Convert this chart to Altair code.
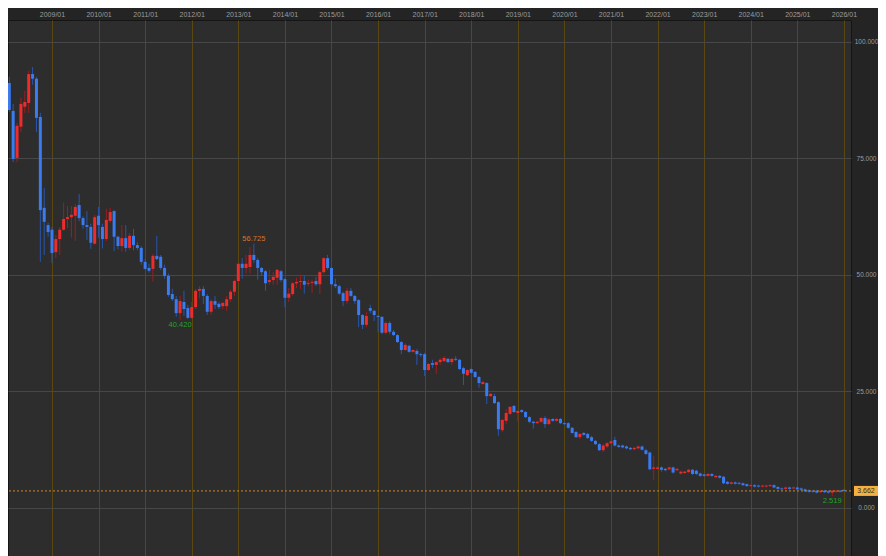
import altair as alt
import pandas as pd

# Monthly candles, 2008/01 .. 2026/01
months = [f"{2008 + k // 12}/{k % 12 + 1:02d}" for k in range(217)]

open_ = [
    92.5, 91.2, 85.2, 75.1, 81.8, 86.1, 86.9, 93.1, 92.1, 83.9, 64.4, 60.7,
    59.7, 54.9, 57.7, 59.7, 62.0, 62.4, 62.7, 65.0, 62.2, 60.7, 60.3, 56.7,
    62.7, 60.3, 57.7, 61.6, 63.7, 58.2, 56.2, 57.9, 55.8, 58.4, 56.4, 55.8,
    52.8, 51.5, 51.3, 54.1, 53.9, 51.5, 49.8, 45.9, 44.8, 41.8, 44.2, 42.9,
    40.8, 43.1, 46.6, 47.0, 45.5, 42.1, 44.4, 43.8, 43.3, 43.3, 44.8, 46.4,
    48.7, 52.4, 51.5, 51.7, 54.3, 53.2, 51.5, 50.8, 48.5, 48.9, 49.4, 50.8,
    49.1, 45.1, 45.9, 48.2, 48.5, 48.7, 48.1, 48.3, 48.7, 48.0, 50.6, 53.6,
    51.5, 48.0, 47.6, 46.1, 44.4, 46.6, 45.5, 44.6, 41.4, 39.3, 42.9, 42.3,
    41.2, 41.0, 37.6, 39.7, 37.8, 37.1, 35.6, 33.9, 34.8, 33.5, 33.7, 33.0,
    33.0, 29.6, 31.1, 30.7, 31.3, 31.5, 32.0, 31.3, 32.0, 31.8, 30.0, 28.5,
    29.8, 29.2, 28.1, 26.6, 26.8, 24.0, 24.0, 22.7, 16.7, 18.7, 20.2, 21.9,
    20.4, 21.0, 20.6, 19.5, 18.5, 18.2, 18.5, 19.3, 18.0, 19.1, 18.7, 19.1,
    18.2, 18.2, 17.2, 16.3, 15.2, 16.1, 15.9, 15.2, 14.4, 13.7, 12.4, 13.2,
    13.9, 14.6, 13.4, 13.4, 13.2, 12.9, 12.6, 12.8, 13.2, 12.4, 11.9, 8.4,
    8.4, 8.7, 8.4, 8.3, 8.7, 8.1, 7.4, 7.5, 7.7, 8.2, 8.0, 7.4,
    7.2, 6.9, 7.3, 6.6, 6.9, 6.7, 5.6, 5.2, 5.5, 5.4, 5.3, 5.1,
    4.7, 4.9, 4.8, 4.6, 4.6, 4.7, 4.9, 4.5, 4.2, 4.1, 4.4, 4.2,
    4.4, 4.2, 4.0, 3.8, 3.7, 3.7, 3.4, 3.7, 3.6, 3.3, 3.5, 3.7,
    3.9,
]
high = [
    92.9, 92.5, 86.7, 82.6, 88.0, 89.5, 93.8, 94.6, 92.5, 84.8, 68.7, 61.2,
    60.3, 58.6, 60.3, 65.5, 64.8, 64.8, 65.2, 67.4, 62.6, 63.7, 61.0, 62.9,
    64.6, 61.0, 64.2, 64.4, 63.9, 58.4, 60.7, 60.7, 59.0, 59.9, 57.0, 56.2,
    53.4, 52.4, 54.5, 58.4, 54.3, 52.2, 50.3, 47.0, 45.5, 45.5, 46.6, 43.6,
    44.2, 47.0, 47.6, 47.6, 45.9, 44.8, 45.5, 44.2, 44.2, 45.5, 46.8, 49.0,
    52.6, 53.6, 54.3, 56.0, 56.725, 53.6, 51.7, 51.1, 51.1, 50.6, 51.3, 51.1,
    49.4, 47.2, 48.5, 49.4, 50.1, 49.8, 49.0, 49.0, 49.6, 50.8, 53.8, 54.3,
    51.7, 49.2, 47.9, 46.4, 47.2, 47.2, 45.7, 44.8, 41.6, 42.1, 43.6, 42.5,
    41.4, 41.2, 40.1, 40.1, 38.2, 37.3, 35.8, 35.4, 35.0, 34.1, 34.1, 33.3,
    33.3, 31.1, 31.8, 31.5, 32.2, 32.6, 32.2, 32.2, 32.6, 32.0, 30.3, 29.8,
    30.0, 29.4, 28.3, 27.3, 27.0, 24.7, 24.5, 22.9, 19.1, 21.2, 21.9, 22.1,
    21.0, 21.2, 20.8, 19.7, 18.7, 18.7, 19.5, 19.7, 19.3, 19.3, 19.3, 19.3,
    18.5, 18.4, 17.4, 16.5, 16.1, 16.3, 16.1, 15.5, 14.6, 13.9, 13.7, 14.2,
    14.5, 15.3, 13.6, 13.6, 13.4, 13.1, 13.1, 13.4, 13.4, 12.7, 12.1, 11.2,
    8.9, 8.9, 8.6, 8.9, 8.9, 8.6, 8.0, 8.0, 8.4, 8.4, 8.2, 7.6,
    7.4, 7.5, 7.5, 7.1, 7.1, 6.9, 5.8, 5.7, 5.7, 5.6, 5.5, 5.3,
    5.1, 5.1, 5.0, 5.0, 5.0, 5.1, 5.1, 4.7, 4.4, 4.6, 4.6, 4.6,
    4.6, 4.4, 4.2, 4.0, 3.9, 3.9, 3.8, 3.9, 3.8, 3.8, 3.9, 3.9,
    4.0,
]
low = [
    84.8, 85.0, 74.2, 74.2, 80.7, 84.8, 84.8, 90.8, 80.7, 52.8, 54.3, 58.2,
    52.6, 53.6, 54.3, 59.5, 60.1, 58.0, 57.3, 61.5, 59.9, 57.5, 55.6, 56.5,
    58.0, 55.7, 57.3, 61.2, 55.1, 55.5, 55.0, 55.0, 55.3, 55.3, 55.3, 52.2,
    51.1, 50.5, 48.6, 53.2, 51.1, 49.2, 45.3, 44.4, 41.0, 40.42, 41.2, 40.6,
    40.6, 42.7, 45.0, 43.8, 41.4, 41.4, 42.7, 42.7, 42.7, 42.3, 44.2, 45.5,
    48.2, 49.2, 50.3, 50.3, 52.6, 49.0, 49.8, 46.6, 47.9, 47.9, 47.9, 48.5,
    43.1, 44.2, 45.5, 47.2, 47.0, 46.0, 47.6, 46.2, 47.6, 45.9, 50.3, 51.1,
    47.6, 47.2, 45.7, 43.3, 43.8, 45.3, 43.8, 38.8, 38.4, 38.8, 41.8, 40.1,
    37.8, 37.3, 37.3, 37.3, 36.9, 35.4, 33.0, 33.7, 33.3, 33.3, 30.7, 32.4,
    28.3, 29.4, 30.0, 28.8, 30.7, 31.3, 31.1, 30.7, 31.5, 29.6, 26.4, 28.3,
    28.8, 27.9, 25.8, 26.4, 22.3, 23.8, 22.3, 15.5, 16.3, 18.0, 19.9, 20.4,
    18.5, 20.4, 19.3, 18.2, 17.0, 18.0, 18.2, 17.2, 17.8, 18.5, 18.5, 18.0,
    17.8, 17.0, 15.9, 15.0, 14.8, 15.5, 14.8, 14.2, 13.5, 12.2, 12.0, 12.9,
    13.7, 13.2, 12.9, 12.8, 12.6, 12.4, 12.4, 12.6, 12.3, 11.4, 8.1, 6.0,
    8.2, 7.8, 7.9, 8.1, 7.4, 7.9, 7.2, 7.3, 7.5, 7.1, 7.1, 6.7,
    6.7, 6.7, 6.7, 6.4, 6.3, 5.1, 5.0, 5.0, 5.0, 5.0, 4.7, 4.5,
    4.5, 4.4, 4.4, 4.4, 4.4, 4.5, 4.2, 3.9, 3.8, 3.9, 3.9, 4.0,
    3.8, 3.7, 3.4, 3.3, 3.3, 3.1, 3.2, 3.2, 3.1, 2.519, 3.3, 3.3,
    3.5,
]
close = [
    91.2, 85.4, 74.9, 82.0, 86.7, 87.1, 93.1, 92.1, 83.7, 63.9, 61.4, 59.2,
    54.7, 57.7, 59.7, 62.0, 62.4, 62.9, 64.6, 62.2, 60.7, 60.3, 56.9, 62.4,
    60.7, 57.7, 61.8, 63.5, 58.2, 56.2, 57.9, 55.8, 58.4, 56.4, 55.8, 52.8,
    51.3, 50.9, 54.1, 53.4, 51.5, 49.8, 45.7, 44.8, 41.8, 44.4, 42.7, 40.8,
    43.1, 46.6, 47.0, 45.5, 42.1, 44.4, 43.6, 43.1, 44.0, 44.8, 46.4, 48.7,
    52.4, 51.5, 52.4, 54.3, 53.2, 51.5, 50.6, 48.2, 48.9, 49.6, 51.1, 48.9,
    45.1, 46.0, 48.2, 48.5, 48.7, 47.9, 48.3, 48.5, 48.0, 50.6, 53.6, 51.5,
    48.0, 47.6, 46.0, 44.4, 46.6, 45.5, 44.4, 41.4, 39.3, 41.2, 42.3, 41.4,
    41.0, 37.6, 39.7, 37.8, 37.1, 35.6, 33.9, 35.0, 33.5, 33.9, 33.0, 32.8,
    29.6, 30.9, 30.7, 31.3, 31.8, 32.2, 31.3, 32.0, 31.8, 29.8, 28.8, 29.6,
    29.0, 28.1, 26.8, 27.0, 24.0, 24.5, 22.5, 16.9, 18.9, 20.4, 21.7, 20.6,
    20.8, 20.6, 19.5, 18.5, 18.2, 18.5, 19.3, 18.0, 19.0, 18.7, 19.1, 18.2,
    18.0, 17.2, 16.1, 15.2, 15.9, 15.7, 15.0, 14.4, 13.7, 12.4, 13.4, 13.9,
    14.3, 13.4, 13.1, 13.0, 12.8, 12.6, 12.9, 13.2, 12.5, 11.6, 8.3, 8.7,
    8.7, 8.2, 8.1, 8.7, 7.6, 8.4, 7.8, 7.8, 8.2, 7.3, 7.3, 6.9,
    6.9, 7.3, 6.9, 6.9, 6.5, 5.3, 5.2, 5.5, 5.2, 5.2, 4.9, 4.7,
    4.9, 4.6, 4.6, 4.8, 4.8, 4.9, 4.4, 4.1, 4.0, 4.4, 4.1, 4.4,
    4.0, 3.9, 3.6, 3.5, 3.5, 3.3, 3.7, 3.4, 3.3, 3.7, 3.7, 3.5,
    3.662,
]

last_price = 3.662
year_ticks = [12 * k for k in range(1, 19)]      # 2009/01 .. 2026/01
y_ticks = [0, 25, 50, 75, 100]

ann_idx = [64, 45, 213]
ann_val = [56.725, 40.42, 2.519]
ann_text = ["56.725", "40.420", "2.519"]
ann_pos = ["high", "low", "low"]

RED = "#ee2c2c"
RED_WICK = "#a11c1c"
BLUE = "#3a7bf0"
BLUE_WICK = "#2856ad"
ORANGE = "#d0762c"
GREEN = "#22a322"

df = pd.DataFrame({
    "i": list(range(len(open_))),
    "month": months,
    "open": open_,
    "high": high,
    "low": low,
    "close": close,
})

ann = pd.DataFrame({"i": ann_idx, "v": ann_val, "t": ann_text, "pos": ann_pos})
lp = pd.DataFrame({"v": [last_price], "t": [f"{last_price:.3f}"]})

# whole chart is 870 px wide so the page does not shrink it
W, H = 843, 536

xscale = alt.Scale(domain=[0.67, 217.83], nice=False, zero=False, padding=0)
yscale = alt.Scale(domain=[-10.3, 104.7], nice=False, zero=False, padding=0)

x_enc = alt.X(
    "i:Q", scale=xscale,
    axis=alt.Axis(
        orient="top", values=year_ticks, title="",
        labelExpr="(2008 + datum.value / 12) + '/01'",
        grid=True, gridColor="#5a4810", gridWidth=1,
        labelBaseline="middle", labelPadding=6, labelAlign="center",
        labelFlush=False, labelOverlap=False,
    ),
)
y_axis = alt.Axis(
    orient="right", values=y_ticks, format=".3f", title="",
    grid=True, gridColor="#474747", gridWidth=1,
    labelAlign="center", labelPadding=15, labelBaseline="middle",
    labelFontSize=6.5,
)

is_up = alt.datum.close >= alt.datum.open

wicks = alt.Chart(df).mark_rule(strokeWidth=1, clip=True).encode(
    x=x_enc,
    y=alt.Y("low:Q", scale=yscale, axis=y_axis),
    y2="high:Q",
    color=alt.when(is_up).then(alt.value(RED_WICK)).otherwise(alt.value(BLUE_WICK)),
)

bodies = alt.Chart(df).mark_bar(size=3, clip=True).encode(
    x=alt.X("i:Q", scale=xscale),
    y=alt.Y("open:Q", scale=yscale),
    y2="close:Q",
    color=alt.when(is_up).then(alt.value(RED)).otherwise(alt.value(BLUE)),
    tooltip=["month", "open", "high", "low", "close"],
)

price_line = alt.Chart(lp).mark_rule(
    color="#c98a2a", strokeDash=[2, 2], strokeWidth=1
).encode(y=alt.Y("v:Q", scale=yscale))

price_box = alt.Chart(lp).mark_rect(
    color="#f6b042", yOffset=-5, y2Offset=5
).encode(
    x=alt.value(846), x2=alt.value(870),
    y=alt.Y("v:Q", scale=yscale), y2="v:Q",
)

price_txt = alt.Chart(lp).mark_text(
    font="Liberation Sans", fontSize=7, color="#3a2a10",
    align="center", baseline="middle",
).encode(x=alt.value(858), y=alt.Y("v:Q", scale=yscale), text="t:N")

hi_txt = alt.Chart(ann).transform_filter(alt.datum.pos == "high").mark_text(
    font="Liberation Sans", fontSize=7.5, color=ORANGE,
    align="center", baseline="bottom", dy=-1,
).encode(x=alt.X("i:Q", scale=xscale), y=alt.Y("v:Q", scale=yscale), text="t:N")

lo_txt = alt.Chart(ann).transform_filter(alt.datum.pos == "low").mark_text(
    font="Liberation Sans", fontSize=7.5, color=GREEN,
    align="center", baseline="top", dy=1,
).encode(x=alt.X("i:Q", scale=xscale), y=alt.Y("v:Q", scale=yscale), text="t:N")

chart = alt.layer(
    wicks, bodies, price_line, price_box, price_txt, hi_txt, lo_txt
).properties(
    width=W, height=H,
    background="#242424",
    padding={"left": 0, "top": 12, "right": 27, "bottom": 0},
    autosize=alt.AutoSizeParams(type="none"),
).configure_view(
    fill="#2d2d2d", stroke="#151515", strokeWidth=1,
).configure_axis(
    domain=False, ticks=False,
    labelColor="#9c9c9c", labelFont="Liberation Sans", labelFontSize=7,
)

chart.save("out.html", embed_options={"renderer": "svg", "actions": False})
